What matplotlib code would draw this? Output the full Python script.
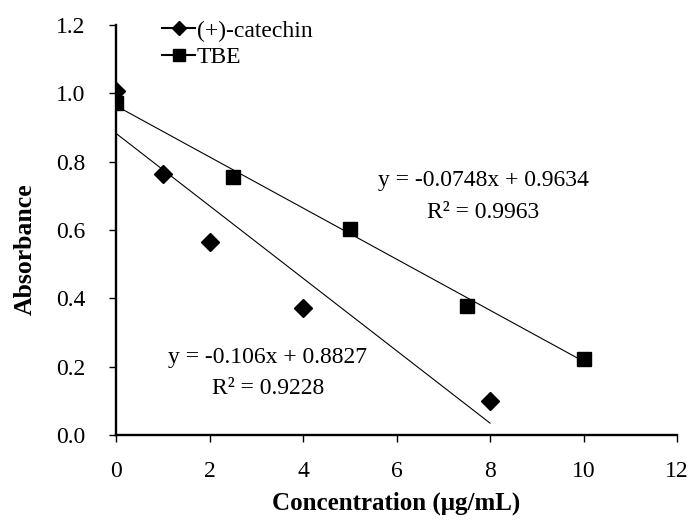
import matplotlib
matplotlib.use("Agg")
import matplotlib.pyplot as plt
from matplotlib.lines import Line2D
import numpy as np

plt.rcParams['font.family'] = ['Liberation Serif', 'DejaVu Serif']

# Data
catechin_x = [0, 1, 2, 4, 8]
catechin_y = [1.007, 0.764, 0.566, 0.373, 0.100]
tbe_x = [0, 2.5, 5, 7.5, 10]
tbe_y = [0.971, 0.756, 0.603, 0.378, 0.222]

catechin_slope, catechin_intercept, catechin_r2 = -0.106, 0.8827, 0.9228
tbe_slope, tbe_intercept, tbe_r2 = -0.0748, 0.9634, 0.9963

xticks = [0, 2, 4, 6, 8, 10, 12]
yticks = [0.0, 0.2, 0.4, 0.6, 0.8, 1.0, 1.2]

fig = plt.figure(figsize=(6.91, 5.2), dpi=100)
ax = fig.add_axes([0.1679, 0.1635, 0.8119, 0.7885])

ax.plot(catechin_x, catechin_y, linestyle='none', marker='D', color='black',
        markersize=8.7, label='(+)-catechin', zorder=3)
ax.plot(tbe_x, tbe_y, linestyle='none', marker='s', color='black',
        markersize=10.5, label='TBE', zorder=3)

# trend lines
cx = np.array([min(catechin_x), max(catechin_x)])
ax.plot(cx, catechin_slope * cx + catechin_intercept, color='black', lw=0.8)
tx = np.array([min(tbe_x), max(tbe_x)])
ax.plot(tx, tbe_slope * tx + tbe_intercept, color='black', lw=0.8)

fs = 17
ax.text(7.85, 0.746, f"y = {tbe_slope}x + {tbe_intercept}", ha='center', va='center', fontsize=fs)
ax.text(7.85, 0.650, f"R² = {tbe_r2}", ha='center', va='center', fontsize=fs)
ax.text(3.25, 0.228, f"y = {catechin_slope}x + {catechin_intercept}", ha='center', va='center', fontsize=fs)
ax.text(3.25, 0.135, f"R² = {catechin_r2}", ha='center', va='center', fontsize=fs)

ax.set_xlim(0, 12)
ax.set_ylim(0, 1.2)
ax.set_xticks(xticks)
ax.set_xticklabels([str(v) for v in xticks])
ax.set_yticks(yticks)
ax.set_yticklabels([f"{v:.1f}" for v in yticks])
ax.tick_params(direction='out', length=5, width=1, labelsize=fs)
ax.tick_params(axis='x', pad=14)
ax.tick_params(axis='y', pad=17)
for s in ['top', 'right']:
    ax.spines[s].set_visible(False)
for s in ['left', 'bottom']:
    ax.spines[s].set_linewidth(1.7)

ax.set_xlabel('Concentration (μg/mL)', fontsize=18, fontweight='bold')
ax.set_ylabel('Absorbance', fontsize=18.5, fontweight='bold')
ax.xaxis.set_label_coords(0.5, -0.166)
ax.yaxis.set_label_coords(-0.162, 0.452)
ax.xaxis.label.set_va('center')
ax.yaxis.label.set_va('center')

h1 = Line2D([], [], color='black', marker='D', markersize=7.5, lw=1.5)
h2 = Line2D([], [], color='black', marker='s', markersize=9, lw=1.5)
ax.legend([h1, h2], ['(+)-catechin', 'TBE'], loc='upper left',
          bbox_to_anchor=(0.082, 1.012), frameon=False, fontsize=fs,
          handlelength=1.4, handletextpad=0.08, borderpad=0, labelspacing=0.2,
          borderaxespad=0)

fig.savefig('out.png', dpi=100)
